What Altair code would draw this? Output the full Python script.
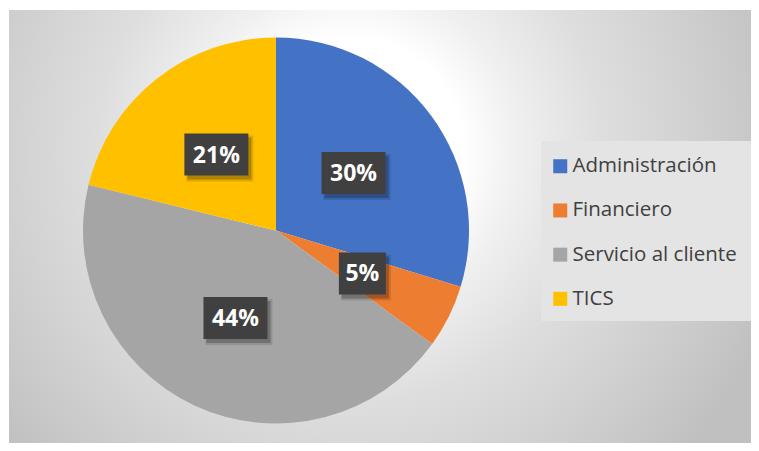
import altair as alt
import pandas as pd

categories = ["Administración", "Financiero", "Servicio al cliente", "TICS"]
values = [29.7, 5.3, 43.8, 21.2]
colors = ["#4472C4", "#ED7D31", "#A5A5A5", "#FFC000"]

df = pd.DataFrame({"idx": list(range(len(categories))), "category": categories, "value": values})
bg = pd.DataFrame({"a": [0]})

CX, CY, R, LR = 267, 220.5, 193, 96.5

base = alt.Chart(df).transform_joinaggregate(
    total="sum(value)"
).transform_window(
    cum="sum(value)", sort=[alt.SortField("idx")], frame=[None, 0]
).transform_calculate(
    mid="(datum.cum - datum.value/2) / datum.total * 2 * PI",
    label="format(datum.value / datum.total, '.0%')",
).transform_calculate(
    cx=f"{CX} + {LR} * sin(datum.mid)",
    cy=f"{CY} - {LR} * cos(datum.mid)",
    hw="8.5 * length(datum.label) + 6.5",
).transform_calculate(
    bx1="datum.cx - datum.hw", bx2="datum.cx + datum.hw",
    by1="datum.cy - 21", by2="datum.cy + 21",
    sx1="datum.cx - datum.hw + 3", sx2="datum.cx + datum.hw + 3",
    sy1="datum.cy - 21 + 4", sy2="datum.cy + 21 + 4",
    tx1="datum.cx - datum.hw + 2", tx2="datum.cx + datum.hw + 5",
    ty1="datum.cy - 21 + 2", ty2="datum.cy + 21 + 6",
)

gradient = {
    "gradient": "radial",
    "x1": 0.5, "y1": 0.5, "r1": 0,
    "x2": 0.5, "y2": 0.5, "r2": 0.5,
    "stops": [
        {"offset": 0.0, "color": "#ffffff"},
        {"offset": 0.25, "color": "#ffffff"},
        {"offset": 0.37, "color": "#f0f0f0"},
        {"offset": 0.56, "color": "#dedede"},
        {"offset": 0.70, "color": "#d5d5d5"},
        {"offset": 0.85, "color": "#cbcbcb"},
        {"offset": 0.95, "color": "#c4c4c4"},
        {"offset": 1.0, "color": "#c0c0c0"},
    ],
}

background = alt.Chart(bg).mark_rect(fill=gradient, clip=True).encode(
    x=alt.value(-109), x2=alt.value(791), y=alt.value(-310), y2=alt.value(590)
)

legend_box = alt.Chart(bg).mark_rect(fill="#e4e4e4", clip=True).encode(
    x=alt.value(532), x2=alt.value(744), y=alt.value(131), y2=alt.value(311)
)

pie = base.mark_arc(radius=R).encode(
    theta=alt.Theta("value:Q", stack=True),
    order=alt.Order("idx:Q"),
    color=alt.Color(
        "category:N",
        scale=alt.Scale(domain=categories, range=colors),
        legend=alt.Legend(
            title=None, orient="none", legendX=541, legendY=146,
            padding=0, rowPadding=23.2,
            symbolType="square", symbolSize=196, symbolStrokeWidth=0,
            labelFont="Open Sans", labelFontSize=20.5, labelColor="#404040",
            labelOffset=2, labelLimit=300,
        ),
    ),
    x=alt.value(CX), y=alt.value(CY),
)

shadow2 = base.mark_rect(color="black", opacity=0.12).encode(
    x=alt.X("tx1:Q", scale=None), x2="tx2:Q",
    y=alt.Y("ty1:Q", scale=None), y2="ty2:Q",
)
shadow = base.mark_rect(color="black", opacity=0.22).encode(
    x=alt.X("sx1:Q", scale=None), x2="sx2:Q",
    y=alt.Y("sy1:Q", scale=None), y2="sy2:Q",
)
box = base.mark_rect(color="#404040").encode(
    x=alt.X("bx1:Q", scale=None), x2="bx2:Q",
    y=alt.Y("by1:Q", scale=None), y2="by2:Q",
)
text = base.mark_text(
    font="Open Sans", fontWeight="bold", fontSize=23, color="white",
    align="center", baseline="middle", dy=1,
).encode(
    x=alt.X("cx:Q", scale=None), y=alt.Y("cy:Q", scale=None), text="label:N"
)

chart = alt.layer(background, legend_box, pie, shadow2, shadow, box, text).properties(
    width=742, height=433,
    autosize=alt.AutoSizeParams(type="none"),
    padding={"left": 1, "top": 2, "right": 0, "bottom": 0},
    background="white",
).configure_view(stroke="#c8c8c8")

chart.save("out.html", embed_options={"renderer": "svg", "actions": False})
